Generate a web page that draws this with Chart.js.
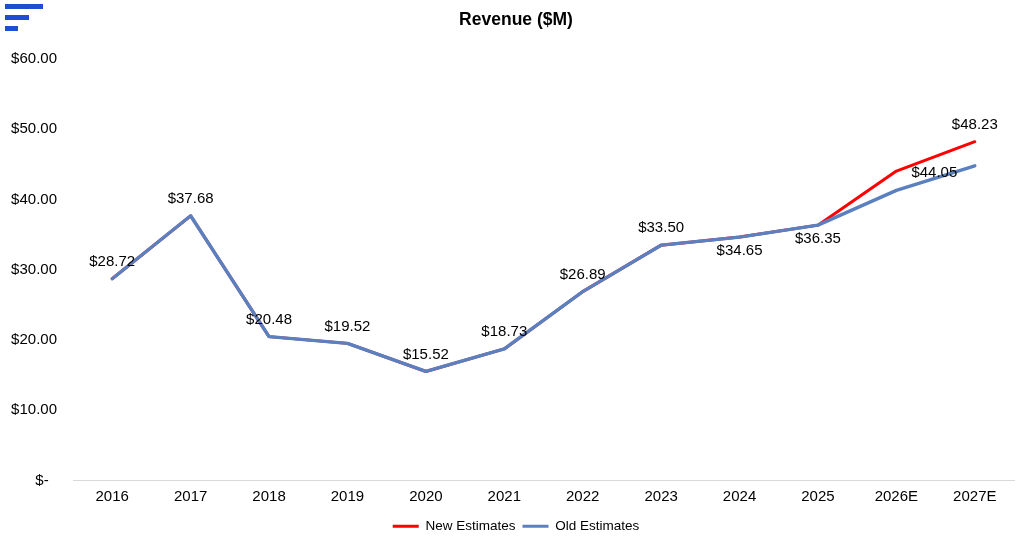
<!DOCTYPE html>
<html>
<head>
<meta charset="utf-8">
<title>Revenue ($M)</title>
<script src="https://cdn.jsdelivr.net/npm/chart.js@4.4.1/dist/chart.umd.min.js"></script>
<style>
    body { margin: 0; background: #fff; }
    #wrap { position: relative; width: 1032px; height: 545px; }
    .logo { position: absolute; left: 5px; height: 5px; background: #1f4fd0; }
</style>
</head>
<body>
<div id="wrap">
    <div class="logo" style="top:4px; width:38px;"></div>
    <div class="logo" style="top:15px; width:24px;"></div>
    <div class="logo" style="top:26px; width:13px;"></div>
    <canvas id="revenueChart"></canvas>
</div>
<script>
// chart values
const years = ['2016', '2017', '2018', '2019', '2020', '2021', '2022', '2023', '2024', '2025', '2026E', '2027E'];
const newEstimates = [28.72, 37.68, 20.48, 19.52, 15.52, 18.73, 26.89, 33.50, 34.65, 36.35, 44.05, 48.23];
const oldEstimates = [28.72, 37.68, 20.48, 19.52, 15.52, 18.73, 26.89, 33.50, 34.65, 36.35, 41.30, 44.80];
const yTicks = [0, 10, 20, 30, 40, 50, 60];

// where each value label sits relative to its point (Excel style)
const labelSpots = ['above', 'above', 'above', 'above', 'above', 'above', 'above', 'above', 'below', 'below', 'right', 'above'];

const FONT = "'Liberation Sans', Arial, sans-serif";

function money(v) {
    return v === 0 ? '$-  ' : '$' + v.toFixed(2);
}

// draws the $ labels on the New Estimates line
const valueLabels = {
    id: 'valueLabels',
    afterDatasetsDraw(chart) {
        const ctx = chart.ctx;
        const meta = chart.getDatasetMeta(0);
        ctx.save();
        ctx.font = '15px ' + FONT;
        ctx.fillStyle = '#000';
        ctx.textBaseline = 'middle';
        meta.data.forEach((pt, i) => {
            const txt = money(newEstimates[i]);
            const spot = labelSpots[i];
            if (spot === 'right') {
                ctx.textAlign = 'left';
                ctx.fillText(txt, pt.x + 15, pt.y + 2);
            } else {
                ctx.textAlign = 'center';
                ctx.fillText(txt, pt.x, spot === 'below' ? pt.y + 14 : pt.y - 17);
            }
        });
        ctx.restore();
    }
};

new Chart(document.getElementById('revenueChart'), {
    type: 'line',
    data: {
        labels: years,
        datasets: [
            {
                label: 'New Estimates',
                data: newEstimates,
                borderColor: '#ff0000',
                backgroundColor: '#ff0000',
                borderWidth: 3,
                order: 2
            },
            {
                label: 'Old Estimates',
                data: oldEstimates,
                borderColor: '#5a80c0',
                backgroundColor: '#5a80c0',
                borderWidth: 3.4,
                order: 1
            }
        ]
    },
    options: {
        responsive: true,
        maintainAspectRatio: false,
        animation: false,
        layout: { padding: { left: 0, right: 0, top: 0, bottom: 2 } },
        elements: {
            point: { radius: 0, hoverRadius: 0 },
            line: { tension: 0, borderJoinStyle: 'round', borderCapStyle: 'round' }
        },
        plugins: {
            title: {
                display: true,
                text: 'Revenue ($M)',
                color: '#000',
                font: { family: FONT, size: 17.5, weight: 'bold' },
                padding: { top: 10, bottom: 28 }
            },
            legend: {
                position: 'bottom',
                labels: {
                    color: '#000',
                    font: { family: FONT, size: 13.5 },
                    boxWidth: 26,
                    boxHeight: 3,
                    padding: 7,
                    sort: (a, b) => a.datasetIndex - b.datasetIndex,
                    generateLabels: chart => Chart.defaults.plugins.legend.labels.generateLabels(chart)
                        .map(item => Object.assign(item, { lineWidth: 0 }))
                }
            },
            tooltip: { enabled: false }
        },
        scales: {
            x: {
                offset: true,
                grid: { display: false, drawTicks: false },
                border: { display: true, color: '#d9d9d9', width: 1 },
                ticks: { color: '#000', font: { family: FONT, size: 15 }, padding: 7, maxRotation: 0 }
            },
            y: {
                min: 0,
                max: 60,
                afterBuildTicks: scale => { scale.ticks = yTicks.map(v => ({ value: v })); },
                afterFit: scale => { scale.width = 73; },
                grid: { display: false, drawTicks: false },
                border: { display: false },
                ticks: {
                    color: '#000',
                    font: { family: FONT, size: 15 },
                    padding: 16,
                    callback: v => money(v)
                }
            },
            // empty right-hand gutter so the title stays centred on the page
            gutter: {
                position: 'right',
                min: 0,
                max: 60,
                afterFit: scale => { scale.width = 18; },
                grid: { display: false, drawTicks: false },
                border: { display: false },
                ticks: { display: false }
            }
        }
    },
    plugins: [valueLabels]
});
</script>
</body>
</html>
